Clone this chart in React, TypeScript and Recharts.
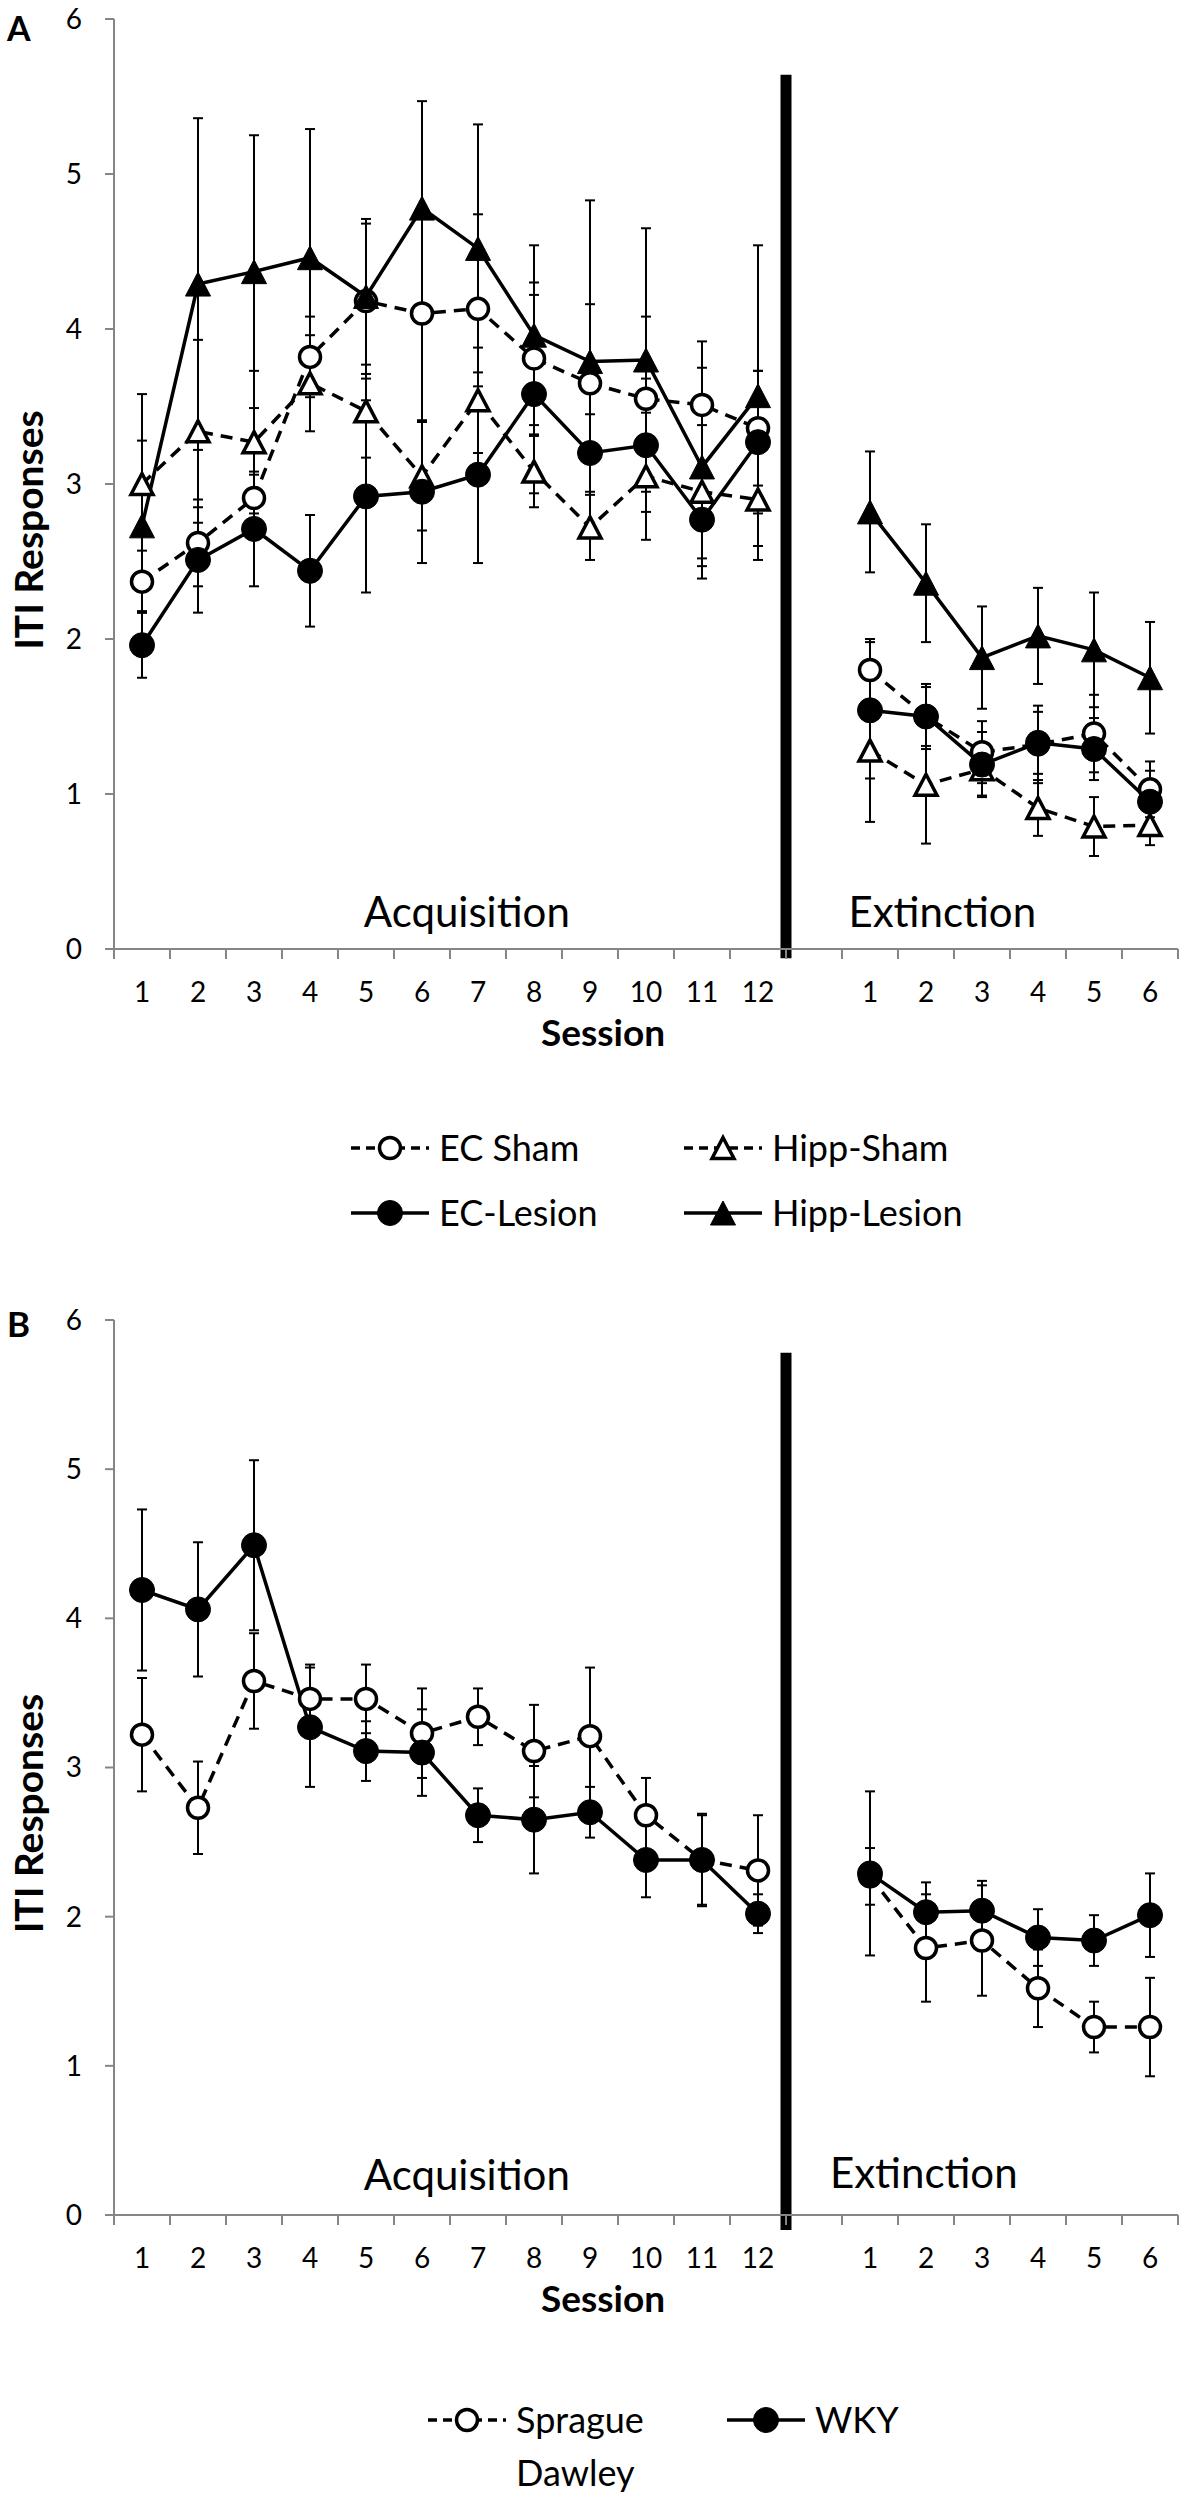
import React from 'react';
import {
  ErrorBar,
  Label,
  Line,
  LineChart,
  ReferenceDot,
  ReferenceLine,
  XAxis,
  YAxis,
} from 'recharts';

const FONT = 'Lato, "Open Sans", sans-serif';
const AXIS_GREY = '#868686';

// x positions 1-12 = acquisition, 13 = spacer, 14-19 = extinction
const SESSION_LABELS = ['1', '2', '3', '4', '5', '6', '7', '8', '9', '10', '11', '12', '', '1', '2', '3', '4', '5', '6'];
const Y_TICKS = [0, 1, 2, 3, 4, 5, 6];

// Panel A
const ecShamAcq = [2.37, 2.62, 2.91, 3.82, 4.18, 4.1, 4.13, 3.81, 3.65, 3.55, 3.51, 3.36];
const ecShamAcqErr = [0.2, 0.28, 0.15, 0.26, 0.5, 0.69, 0.61, 0.49, 0.51, 0.53, 0.41, 0.37];
const ecShamExt = [1.8, 1.5, 1.27, 1.32, 1.39, 1.03];
const ecShamExtErr = [0.2, 0.21, 0.2, 0.25, 0.25, 0.18];

const hippShamAcq = [3.0, 3.34, 3.27, 3.65, 3.47, 3.05, 3.54, 3.08, 2.72, 3.05, 2.95, 2.9];
const hippShamAcqErr = [0.58, 0.59, 0.46, 0.31, 0.3, 0.35, 0.34, 0.23, 0.21, 0.41, 0.43, 0.39];
const hippShamExt = [1.28, 1.06, 1.16, 0.91, 0.79, 0.8];
const hippShamExtErr = [0.46, 0.38, 0.17, 0.18, 0.19, 0.13];

const ecLesionAcq = [1.96, 2.51, 2.71, 2.44, 2.92, 2.95, 3.06, 3.58, 3.2, 3.25, 2.77, 3.27];
const ecLesionAcqErr = [0.21, 0.34, 0.37, 0.36, 0.62, 0.46, 0.57, 0.64, 0.25, 0.43, 0.38, 0.46];
const ecLesionExt = [1.54, 1.5, 1.19, 1.33, 1.29, 0.95];
const ecLesionExtErr = [0.44, 0.19, 0.21, 0.2, 0.2, 0.2];

const hippLesionAcq = [2.73, 4.29, 4.37, 4.46, 4.21, 4.78, 4.52, 3.96, 3.79, 3.8, 3.11, 3.57];
const hippLesionAcqErr = [0.55, 1.07, 0.88, 0.83, 0.5, 0.69, 0.8, 0.58, 1.04, 0.85, 0.64, 0.97];
const hippLesionExt = [2.82, 2.36, 1.88, 2.02, 1.93, 1.75];
const hippLesionExtErr = [0.39, 0.38, 0.33, 0.31, 0.37, 0.36];

// Panel B
const spragueAcq = [3.22, 2.73, 3.58, 3.46, 3.46, 3.23, 3.34, 3.11, 3.21, 2.68, 2.38, 2.31];
const spragueAcqErr = [0.38, 0.31, 0.32, 0.23, 0.23, 0.3, 0.19, 0.31, 0.46, 0.25, 0.31, 0.37];
const spragueExt = [2.27, 1.79, 1.84, 1.52, 1.26, 1.26];
const spragueExtErr = [0.19, 0.36, 0.37, 0.26, 0.17, 0.33];

const wkyAcq = [4.19, 4.06, 4.49, 3.27, 3.11, 3.1, 2.68, 2.65, 2.7, 2.38, 2.38, 2.02];
const wkyAcqErr = [0.54, 0.45, 0.57, 0.4, 0.2, 0.29, 0.18, 0.36, 0.17, 0.25, 0.3, 0.13];
const wkyExt = [2.29, 2.03, 2.04, 1.86, 1.84, 2.01];
const wkyExtErr = [0.55, 0.2, 0.2, 0.19, 0.17, 0.28];

type Marker = 'circle' | 'triangle';
type SeriesDef = { key: string; name: string; dashed: boolean; marker: Marker; filled: boolean };

const join = (acq: number[], ext: number[]) => [...acq, null, ...ext];

const rowsA = SESSION_LABELS.map((label, i) => ({
  x: i + 1,
  label,
  ecSham: join(ecShamAcq, ecShamExt)[i],
  ecShamErr: join(ecShamAcqErr, ecShamExtErr)[i],
  hippSham: join(hippShamAcq, hippShamExt)[i],
  hippShamErr: join(hippShamAcqErr, hippShamExtErr)[i],
  ecLesion: join(ecLesionAcq, ecLesionExt)[i],
  ecLesionErr: join(ecLesionAcqErr, ecLesionExtErr)[i],
  hippLesion: join(hippLesionAcq, hippLesionExt)[i],
  hippLesionErr: join(hippLesionAcqErr, hippLesionExtErr)[i],
}));

const rowsB = SESSION_LABELS.map((label, i) => ({
  x: i + 1,
  label,
  sprague: join(spragueAcq, spragueExt)[i],
  spragueErr: join(spragueAcqErr, spragueExtErr)[i],
  wky: join(wkyAcq, wkyExt)[i],
  wkyErr: join(wkyAcqErr, wkyExtErr)[i],
}));

const seriesA: SeriesDef[] = [
  { key: 'ecSham', name: 'EC Sham', dashed: true, marker: 'circle', filled: false },
  { key: 'hippSham', name: 'Hipp-Sham', dashed: true, marker: 'triangle', filled: false },
  { key: 'ecLesion', name: 'EC-Lesion', dashed: false, marker: 'circle', filled: true },
  { key: 'hippLesion', name: 'Hipp-Lesion', dashed: false, marker: 'triangle', filled: true },
];

const seriesB: SeriesDef[] = [
  { key: 'sprague', name: 'Sprague Dawley', dashed: true, marker: 'circle', filled: false },
  { key: 'wky', name: 'WKY', dashed: false, marker: 'circle', filled: true },
];

// tick at every category edge, label at every category centre
const X_TICKS = Array.from({ length: 39 }, (_, i) => 0.5 + i * 0.5);

const MarkerShape = ({ cx, cy, marker, filled }: { cx: number; cy: number; marker: Marker; filled: boolean }) => {
  const fill = filled ? '#000' : '#fff';
  const strokeWidth = filled ? 1 : 3.5;
  if (marker === 'circle') {
    return <circle cx={cx} cy={cy} r={filled ? 12.5 : 10.5} fill={fill} stroke="#000" strokeWidth={strokeWidth} />;
  }
  const h = filled ? 12 : 10.5;
  const w = filled ? 12.5 : 11;
  return (
    <path
      d={`M${cx},${cy - h}L${cx + w},${cy + h}L${cx - w},${cy + h}Z`}
      fill={fill}
      stroke="#000"
      strokeWidth={strokeWidth}
      strokeLinejoin="miter"
    />
  );
};

const makeDot = (marker: Marker, filled: boolean) => (props: any) => {
  const { cx, cy, index, value } = props;
  if (cx == null || cy == null || value == null) return <g key={`d-${index}`} />;
  return (
    <g key={`d-${index}`}>
      <MarkerShape cx={cx} cy={cy} marker={marker} filled={filled} />
    </g>
  );
};

const renderSessionTick = (props: any) => {
  const { x, y, payload } = props;
  const v = payload.value as number;
  if (!Number.isInteger(v)) {
    return <line x1={x} x2={x} y1={y} y2={y + 10} stroke={AXIS_GREY} strokeWidth={2} />;
  }
  return (
    <text x={x} y={y + 53} textAnchor="middle" fontSize={28} fill="#000">
      {SESSION_LABELS[v - 1]}
    </text>
  );
};

// the axis title sits a little below the middle of the plot, as in the original
const renderYTitle = ({ viewBox }: any) => {
  const cx = 28;
  const cy = viewBox.y + viewBox.height / 2 + 46;
  return (
    <text
      x={cx}
      y={cy}
      transform={`rotate(-90, ${cx}, ${cy})`}
      textAnchor="middle"
      dominantBaseline="central"
      fontSize={39}
      fontWeight={700}
      fill="#000"
    >
      ITI Responses
    </text>
  );
};

const renderXTitle = ({ viewBox }: any) => (
  <text
    x={viewBox.x + viewBox.width / 2 - 43}
    y={viewBox.y + 97}
    textAnchor="middle"
    fontSize={37}
    fontWeight={700}
    fill="#000"
  >
    Session
  </text>
);

type PanelProps = {
  rows: any[];
  series: SeriesDef[];
  height: number;
  barTop: number;
  barBottom: number;
  acqPos: [number, number];
  extPos: [number, number];
};

const Panel = ({ rows, series, height, barTop, barBottom, acqPos, extPos }: PanelProps) => (
  <LineChart width={1188} height={height} data={rows} margin={{ top: 19, right: 10, bottom: 0, left: 0 }}>
    <XAxis
      type="number"
      dataKey="x"
      domain={[0.5, 19.5]}
      ticks={X_TICKS}
      interval={0}
      tick={renderSessionTick}
      tickLine={false}
      tickSize={0}
      tickMargin={0}
      axisLine={{ stroke: AXIS_GREY, strokeWidth: 2 }}
      height={125}
    >
      <Label content={renderXTitle} />
    </XAxis>
    <YAxis
      domain={[0, 6]}
      ticks={Y_TICKS}
      interval={0}
      width={114}
      tickSize={9}
      tickMargin={23}
      tick={{ fontSize: 28, fill: '#000' }}
      tickLine={{ stroke: AXIS_GREY, strokeWidth: 2 }}
      axisLine={{ stroke: AXIS_GREY, strokeWidth: 2 }}
    >
      <Label content={renderYTitle} />
    </YAxis>
    <ReferenceLine
      segment={[
        { x: 12.5, y: barBottom },
        { x: 12.5, y: barTop },
      ]}
      stroke="#000"
      strokeWidth={11}
      ifOverflow="visible"
    />
    <ReferenceDot
      x={acqPos[0]}
      y={acqPos[1]}
      r={0}
      fill="none"
      stroke="none"
      label={{ value: 'Acquisition', position: 'center', fontSize: 42, fill: '#000' }}
    />
    <ReferenceDot
      x={extPos[0]}
      y={extPos[1]}
      r={0}
      fill="none"
      stroke="none"
      label={{ value: 'Extinction', position: 'center', fontSize: 42, fill: '#000' }}
    />
    {series.map((s) => (
      <Line
        key={s.key}
        type="linear"
        dataKey={s.key}
        name={s.name}
        stroke="#000"
        strokeWidth={3.5}
        strokeDasharray={s.dashed ? '12 8' : undefined}
        dot={makeDot(s.marker, s.filled)}
        activeDot={false}
        connectNulls={false}
        isAnimationActive={false}
      >
        <ErrorBar dataKey={`${s.key}Err`} direction="y" width={5} stroke="#000" strokeWidth={2} />
      </Line>
    ))}
  </LineChart>
);

const LegendKey = ({ x, y, s, lines }: { x: number; y: number; s: SeriesDef; lines: string[] }) => (
  <g>
    <line
      x1={x}
      x2={x + 78}
      y1={y}
      y2={y}
      stroke="#000"
      strokeWidth={3.5}
      strokeDasharray={s.dashed ? '9 6' : undefined}
    />
    <MarkerShape cx={x + 39} cy={y} marker={s.marker} filled={s.filled} />
    {lines.map((t, i) => (
      <text key={t} x={x + 88} y={y + 13 + i * 53} fontSize={36} fill="#000">
        {t}
      </text>
    ))}
  </g>
);

export default function App() {
  return (
    <div style={{ position: 'absolute', left: 0, top: 0, width: 1188, height: 2500, background: '#fff', fontFamily: FONT }}>
      <div style={{ position: 'absolute', left: 0, top: 0 }}>
        <Panel
          rows={rowsA}
          series={seriesA}
          height={1074}
          barTop={5.64}
          barBottom={-0.06}
          acqPos={[6.8, 0.24]}
          extPos={[15.29, 0.24]}
        />
      </div>
      <div style={{ position: 'absolute', left: 0, top: 1301 }}>
        <Panel
          rows={rowsB}
          series={seriesB}
          height={1039}
          barTop={5.78}
          barBottom={-0.1}
          acqPos={[6.8, 0.27]}
          extPos={[14.96, 0.28]}
        />
      </div>
      <svg
        width={1188}
        height={2500}
        style={{ position: 'absolute', left: 0, top: 0, pointerEvents: 'none' }}
      >
        <text x={7} y={41} fontSize={34} fontWeight={700} fill="#000">A</text>
        <text x={7} y={1337} fontSize={35} fontWeight={700} fill="#000">B</text>
        <LegendKey x={351} y={1148} s={seriesA[0]} lines={['EC Sham']} />
        <LegendKey x={684} y={1148} s={seriesA[1]} lines={['Hipp-Sham']} />
        <LegendKey x={351} y={1213} s={seriesA[2]} lines={['EC-Lesion']} />
        <LegendKey x={684} y={1213} s={seriesA[3]} lines={['Hipp-Lesion']} />
        <LegendKey x={428} y={2420} s={seriesB[0]} lines={['Sprague', 'Dawley']} />
        <LegendKey x={727} y={2420} s={seriesB[1]} lines={['WKY']} />
      </svg>
    </div>
  );
}
